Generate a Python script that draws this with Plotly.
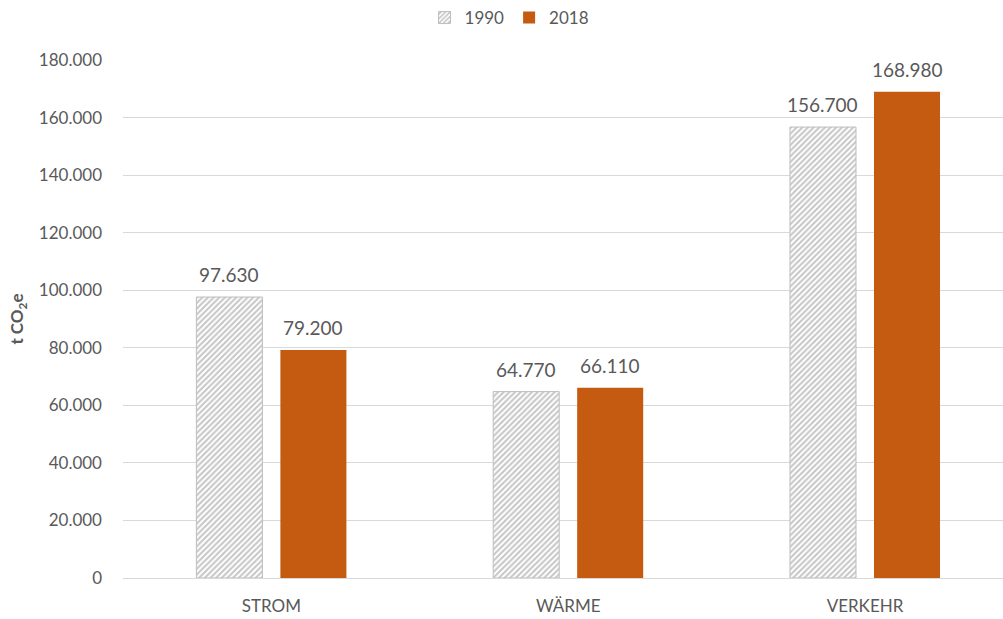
import plotly.graph_objects as go

categories = ["STROM", "WÄRME", "VERKEHR"]
values_1990 = [97630, 64770, 156700]
values_2018 = [79200, 66110, 168980]
tick_values = [0, 20000, 40000, 60000, 80000, 100000, 120000, 140000, 160000, 180000]

TEXT = "#595959"
ORANGE = "#C55A11"
FONT = "Lato, Calibri, sans-serif"

BARGAP = 0.434
BARGROUPGAP = 0.214
CAT_PX = 297  # pixel width of one category slot

fig = go.Figure()
fig.add_trace(go.Bar(
    name="1990", x=categories, y=values_1990,
    marker=dict(
        color="white",
        line=dict(color="#bdbdbd", width=1),
        pattern=dict(shape="/", fgcolor="#8c8c8c", bgcolor="white", size=4, solidity=0.5),
    ),
))
fig.add_trace(go.Bar(
    name="2018", x=categories, y=values_2018,
    marker=dict(color=ORANGE, line=dict(width=0)),
))

# value labels sitting a little above each bar
half_slot = CAT_PX * (1 - BARGAP) / 4
for series, dx in ((values_1990, -half_slot), (values_2018, half_slot)):
    for cat, v in zip(categories, series):
        fig.add_annotation(
            x=cat, y=v, xref="x", yref="y",
            text=f"{v:,.0f}".replace(",", "."),
            showarrow=False, xanchor="center", yanchor="bottom",
            xshift=dx, yshift=9,
            font=dict(size=19, color=TEXT, family=FONT),
        )

fig.update_layout(
    width=1003, height=619,
    margin=dict(l=123, r=0, t=60, b=41),
    plot_bgcolor="white", paper_bgcolor="white",
    separators=",.",
    barmode="group", bargap=BARGAP, bargroupgap=BARGROUPGAP,
    font=dict(family=FONT, color=TEXT, size=16),
    legend=dict(
        orientation="h", xref="container", x=0.508, xanchor="center",
        yref="container", y=1.0, yanchor="top",
        font=dict(size=17, color=TEXT, family=FONT),
        itemwidth=30, traceorder="normal",
    ),
    xaxis=dict(
        range=[-0.5, 2.465], showline=False, ticks="",
        tickfont=dict(size=17, color=TEXT, family=FONT),
        ticklabelstandoff=16,
    ),
    yaxis=dict(
        range=[0, 180000], tickvals=tick_values, tickformat=",.0f",
        showgrid=True, gridcolor="#d9d9d9", gridwidth=1,
        zeroline=True, zerolinecolor="#d9d9d9", zerolinewidth=1,
        tickfont=dict(size=17, color=TEXT, family=FONT),
        ticks="", ticklabelstandoff=20,
        title=dict(text="<b>t CO<sub>2</sub>e</b>", font=dict(size=17, color=TEXT, family=FONT), standoff=10),
    ),
)

fig.write_html("out.html")
